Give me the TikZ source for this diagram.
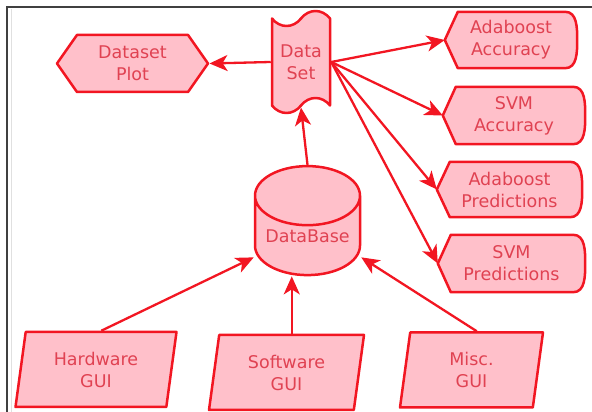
\documentclass[tikz,border=0pt]{standalone}
\usepackage{fontspec}
\setmainfont{DejaVu Sans}
\usetikzlibrary{shapes.geometric,shapes.symbols,arrows.meta,backgrounds}
\definecolor{boxfill}{RGB}{255,192,202}
\definecolor{boxline}{RGB}{242,22,34}
\definecolor{boxtext}{RGB}{224,66,82}

\tikzset{
    box/.style={draw=boxline,fill=boxfill,line width=2.5pt,line join=round,
        text=boxtext,align=center,font=\fontsize{17.5}{22}\selectfont,inner sep=0pt},
    gui/.style={box,trapezium,trapezium left angle=74,trapezium right angle=106,
        trapezium stretches body,minimum height=75pt},
    disp/.style={text=boxtext,align=center,font=\fontsize{17.5}{22}\selectfont,inner sep=0pt},
    arr/.style={draw=boxline,line width=2.3pt,-{Stealth[length=18pt,width=16pt,inset=5pt]}},
}

% display box: pointed on the left, rounded on the right
\newcommand{\dispoutline}[1]{%
    \filldraw[draw=boxline,fill=boxfill,line width=2.5pt,line join=round]
        (#1.west) -- ([xshift=13pt]#1.north west) -- ([xshift=-12pt]#1.north east)
        to[out=0,in=90] (#1.east) to[out=-90,in=0] ([xshift=-12pt]#1.south east)
        -- ([xshift=13pt]#1.south west) -- cycle;}

\begin{document}
\begin{tikzpicture}[x=1pt,y=1pt]
    \useasboundingbox (0,0) rectangle (592,412);

    % window frame
    \draw [black!75,line width=1.2pt] (7,0) -- (7,405) -- (592,405);
    \draw [black!12,line width=1pt] (11,0) -- (11,403);

    \node [box,signal,signal to=west and east,signal pointer angle=110,
        minimum width=151pt,minimum height=57pt] (plot) at (132.5,348.5) {Dataset\\Plot};
    \node [box,tape,tape bend height=15pt,minimum width=58pt,minimum height=102pt]
        (ds) at (301,350) {Data\\Set};

    \node [disp,minimum width=132pt,minimum height=56pt] (adaacc) at (511,372) {Adaboost\\Accuracy};
    \node [disp,minimum width=142pt,minimum height=57pt] (svmacc) at (514,296.5) {SVM\\Accuracy};
    \node [disp,minimum width=145pt,minimum height=55pt] (adapred) at (509.5,222.5) {Adaboost\\Predictions};
    \node [disp,minimum width=147pt,minimum height=57pt] (svmpred) at (511.5,148.5) {SVM\\Predictions};

    \node [box,cylinder,shape border rotate=90,aspect=0.7,
        minimum width=105pt,minimum height=109pt] (db) at (307.5,176) {DataBase};
    \coordinate (dbsw) at (db.west |- db.south);
    \coordinate (dbse) at (db.east |- db.south);

    \node [gui,minimum width=161pt] (hw) at (96,42.5) {Hardware\\GUI};
    \node [gui,minimum width=155pt] (sw) at (286.5,39.5) {Software\\GUI};
    \node [gui,minimum width=143pt] (misc) at (471.5,42) {Misc.\\GUI};

    \begin{scope}[on background layer]
        \foreach \n in {adaacc,svmacc,adapred,svmpred} {\dispoutline{\n}}
    \end{scope}

    % data flow
    \draw [arr] (ds.west) -- (plot.east);
    \foreach \n in {adaacc,svmacc,adapred,svmpred} {
        \draw [arr] (ds.east) -- (\n.west);
    }
    \draw [arr] (db.north) -- (ds.south);
    \draw [arr] (hw.top side) -- ([yshift=19pt]dbsw);
    \draw [arr] (sw.top side) -- (sw.top side |- db.south);
    \draw [arr] (misc.top side) -- ([yshift=19pt]dbse);
\end{tikzpicture}
\end{document}
